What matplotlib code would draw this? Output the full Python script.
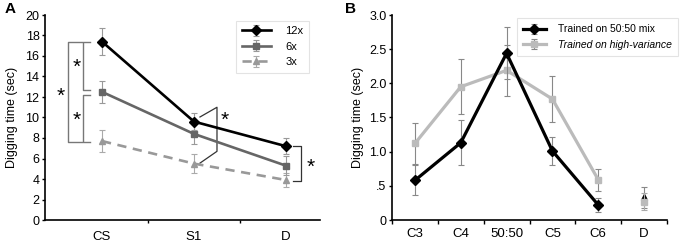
import matplotlib
matplotlib.use("Agg")
import matplotlib.pyplot as plt
from matplotlib.ticker import FixedLocator, FixedFormatter

plt.rcParams['font.family'] = ['Liberation Sans', 'DejaVu Sans']

# Panel A data
cats_a = ["CS", "S1", "D"]
a_12x = [17.4, 9.6, 7.2]
a_12x_err = [1.3, 0.8, 0.8]
a_6x = [12.5, 8.4, 5.3]
a_6x_err = [1.1, 1.0, 0.9]
a_3x = [7.7, 5.5, 3.9]
a_3x_err = [1.05, 0.9, 0.7]

# Panel B data
cats_b = ["C3", "C4", "50:50", "C5", "C6", "D"]
b_mix = [0.58, 1.13, 2.44, 1.01, 0.22]
b_mix_err = [0.22, 0.33, 0.38, 0.20, 0.10]
b_mix_d = 0.33
b_mix_d_err = 0.15
b_hv = [1.12, 1.95, 2.19, 1.77, 0.59]
b_hv_err = [0.30, 0.40, 0.37, 0.33, 0.16]
b_hv_d = 0.27
b_hv_d_err = 0.13

W, H = 680, 243
fig = plt.figure(figsize=(W/100, H/100), dpi=100)

def ax_rect(l, t, r, b):
    return [l/W, 1-b/H, (r-l)/W, (b-t)/H]

# ---------- Panel A ----------
axA = fig.add_axes(ax_rect(45, 15, 320, 220))
xa = list(range(len(cats_a)))
lw = 1.9
axA.errorbar(xa, a_3x, yerr=a_3x_err, color='#999999', lw=lw, ls=(0, (3.5, 2.5)),
             marker='^', ms=5, ecolor='#aaaaaa', elinewidth=0.8, capsize=2, capthick=0.8,
             label='3x', zorder=2)
axA.errorbar(xa, a_6x, yerr=a_6x_err, color='#666666', lw=lw,
             marker='s', ms=5, ecolor='#999999', elinewidth=0.8, capsize=2, capthick=0.8,
             label='6x', zorder=3)
axA.errorbar(xa, a_12x, yerr=a_12x_err, color='black', lw=lw,
             marker='D', ms=5, ecolor='#999999', elinewidth=0.8, capsize=2, capthick=0.8,
             label='12x', zorder=4)
axA.set_xlim(-0.62, 2.37)
axA.set_ylim(0, 20)
axA.set_yticks(range(0, 21, 2))
axA.set_xticks(xa)
axA.set_xticklabels(cats_a, fontsize=9.5)
axA.xaxis.set_minor_locator(FixedLocator([0.5, 1.5]))
axA.tick_params(axis='x', which='major', length=0, pad=8)
axA.tick_params(axis='x', which='minor', length=2, width=1)
axA.tick_params(axis='y', length=2, width=1, labelsize=9, pad=2)
axA.set_ylabel('Digging time (sec)', fontsize=9, labelpad=5)
for s in ['top', 'right']:
    axA.spines[s].set_visible(False)
for s in ['left', 'bottom']:
    axA.spines[s].set_linewidth(1.2)

h, l = axA.get_legend_handles_labels()
order = [2, 1, 0]
leg = axA.legend([h[i] for i in order], [l[i] for i in order], loc='upper right',
                 bbox_to_anchor=(0.98, 1.0), fontsize=8, frameon=True, fancybox=False,
                 edgecolor='#dddddd', handlelength=2.6, borderpad=0.5, labelspacing=0.5,
                 handletextpad=1.3)
leg.get_frame().set_linewidth(0.8)

# significance brackets (gray)
bc = '#777777'
axA.plot([-0.13, -0.207, -0.207, -0.13], [17.4, 17.4, 12.7, 12.7], color=bc, lw=1, clip_on=False)
axA.plot([-0.13, -0.207, -0.207, -0.13], [12.2, 12.2, 7.6, 7.6], color=bc, lw=1, clip_on=False)
axA.plot([-0.22, -0.37, -0.37, -0.22], [17.4, 17.4, 7.6, 7.6], color=bc, lw=1, clip_on=False)
axA.text(-0.28, 14.9, '*', fontsize=15, ha='center', va='center')
axA.text(-0.28, 9.7, '*', fontsize=15, ha='center', va='center')
axA.text(-0.45, 12.1, '*', fontsize=15, ha='center', va='center', clip_on=False)
# S1 bracket
axA.plot([1.065, 1.25, 1.25, 1.065], [10.05, 11.0, 6.7, 5.55], color='#333333', lw=0.9)
axA.text(1.33, 9.7, '*', fontsize=15, ha='center', va='center')
# D bracket
axA.plot([2.08, 2.16, 2.16, 2.08], [7.2, 7.2, 3.8, 3.8], color='#333333', lw=0.9, clip_on=False)
axA.text(2.27, 5.1, '*', fontsize=15, ha='center', va='center', clip_on=False)

fig.text(5/W, 1-9/H, 'A', fontsize=11, fontweight='bold', ha='left', va='center')

# ---------- Panel B ----------
axB = fig.add_axes(ax_rect(392, 15, 667, 220))
xb = list(range(len(cats_b)))
xline = xb[:len(b_mix)]
axB.errorbar(xline, b_hv, yerr=b_hv_err, color='#bbbbbb', lw=2.3, marker='s', ms=5,
             ecolor='#888888', elinewidth=0.8, capsize=2, capthick=0.8,
             label='Trained on high-variance', zorder=2)
axB.errorbar(xline, b_mix, yerr=b_mix_err, color='black', lw=2.3, marker='D', ms=5,
             ecolor='#888888', elinewidth=0.8, capsize=2, capthick=0.8,
             label='Trained on 50:50 mix', zorder=3)
axB.errorbar([xb[-1]], [b_mix_d], yerr=[b_mix_d_err], color='black', marker='^', ms=5,
             ecolor='#888888', elinewidth=0.8, capsize=2, capthick=0.8, ls='none', zorder=3)
axB.errorbar([xb[-1]], [b_hv_d], yerr=[b_hv_d_err], color='#bbbbbb', marker='s', ms=5,
             ecolor='#aaaaaa', elinewidth=0.8, capsize=2, capthick=0.8, ls='none', zorder=4)
axB.set_xlim(-0.5, 5.5)
axB.set_ylim(0, 3.0)
yt = [0, 0.5, 1.0, 1.5, 2.0, 2.5, 3.0]
axB.yaxis.set_major_locator(FixedLocator(yt))
axB.yaxis.set_major_formatter(FixedFormatter(['0', '.5', '1.0', '1.5', '2.0', '2.5', '3.0']))
axB.set_xticks(xb)
axB.set_xticklabels(cats_b, fontsize=9.5)
axB.xaxis.set_minor_locator(FixedLocator([i + 0.5 for i in range(-1, 6)]))
axB.tick_params(axis='x', which='major', length=0, pad=6)
axB.tick_params(axis='x', which='minor', length=3, width=1)
axB.tick_params(axis='y', length=2, width=1, labelsize=9, pad=2)
axB.set_ylabel('Digging time (sec)', fontsize=9, labelpad=4)
for s in ['top', 'right']:
    axB.spines[s].set_visible(False)
for s in ['left', 'bottom']:
    axB.spines[s].set_linewidth(1.2)

h, l = axB.get_legend_handles_labels()
legB = axB.legend([h[1], h[0]], [l[1], l[0]], loc='upper right', bbox_to_anchor=(1.06, 1.01),
                  fontsize=7.5, frameon=True, fancybox=False, edgecolor='#dddddd',
                  handlelength=2.2, borderpad=0.6, labelspacing=0.5, handletextpad=1.2)
legB.get_frame().set_linewidth(0.8)
legB.get_texts()[1].set_style('italic')

fig.text(345/W, 1-9/H, 'B', fontsize=11, fontweight='bold', ha='left', va='center')

fig.savefig('out.png', dpi=100)
